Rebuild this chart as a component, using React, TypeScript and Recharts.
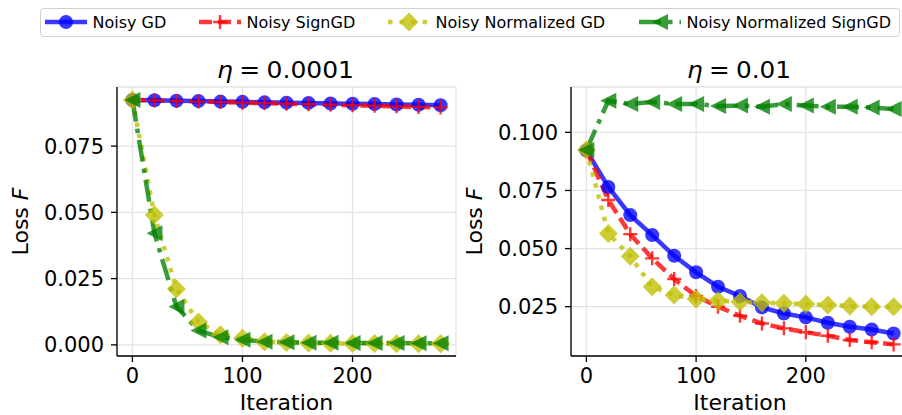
import React from 'react';
import { LineChart, Line, XAxis, YAxis, CartesianGrid, Label } from 'recharts';

// iteration index shared by every run
const iterations = [0, 20, 40, 60, 80, 100, 120, 140, 160, 180, 200, 220, 240, 260, 280];

// eta = 0.0001
const gdSmall = [0.0924, 0.0923, 0.0921, 0.092, 0.0918, 0.0917, 0.0915, 0.0914, 0.0913, 0.0911, 0.091, 0.0909, 0.0907, 0.0906, 0.0904];
const signSmall = [0.0924, 0.0922, 0.092, 0.0918, 0.0916, 0.0914, 0.0912, 0.091, 0.0908, 0.0906, 0.0904, 0.0902, 0.09, 0.0898, 0.0896];
const normSmall = [0.0924, 0.049, 0.0211, 0.0086, 0.0038, 0.0025, 0.0012, 0.0009, 0.0007, 0.0006, 0.0005, 0.0005, 0.0004, 0.0004, 0.0004];
const normSignSmall = [0.0924, 0.0421, 0.0144, 0.0054, 0.0029, 0.0019, 0.0012, 0.001, 0.0008, 0.0008, 0.0007, 0.0007, 0.0007, 0.0006, 0.0006];

// eta = 0.01
const gdLarge = [0.0922, 0.0765, 0.0644, 0.0558, 0.0469, 0.0398, 0.0336, 0.0296, 0.0247, 0.0221, 0.0204, 0.0181, 0.0164, 0.0152, 0.0135];
const signLarge = [0.0924, 0.0709, 0.0562, 0.0458, 0.0369, 0.0296, 0.025, 0.0211, 0.0178, 0.0157, 0.014, 0.0125, 0.0107, 0.0097, 0.0088];
const normLarge = [0.0924, 0.0565, 0.0467, 0.0336, 0.03, 0.0283, 0.0276, 0.0271, 0.0267, 0.0265, 0.0262, 0.0257, 0.0253, 0.025, 0.025];
const normSignLarge = [0.0924, 0.1136, 0.1122, 0.113, 0.1122, 0.1122, 0.1113, 0.1115, 0.111, 0.1122, 0.1115, 0.111, 0.111, 0.1107, 0.11];

const xTicks = [0, 100, 200];
const yTicksSmall = [0, 0.025, 0.05, 0.075];
const yTicksLarge = [0.025, 0.05, 0.075, 0.1];

const seriesNames = ['Noisy GD', 'Noisy SignGD', 'Noisy Normalized GD', 'Noisy Normalized SignGD'];

const FONT = 'DejaVu Sans';
const ALPHA = 0.78;

const seriesStyle = [
  { key: 'gd', color: '#0000ff', dash: undefined as string | undefined, marker: 'circle' },
  { key: 'sign', color: '#ff0000', dash: '13 6', marker: 'plus' },
  { key: 'norm', color: '#bfbf00', dash: '4.5 7', marker: 'diamond' },
  { key: 'normSign', color: '#008000', dash: '22 7 4.5 7', marker: 'triangle' },
];

const buildRows = (gd: number[], sign: number[], norm: number[], normSign: number[]) =>
  iterations.map((it, i) => ({ it, gd: gd[i], sign: sign[i], norm: norm[i], normSign: normSign[i] }));

const smallRows = buildRows(gdSmall, signSmall, normSmall, normSignSmall);
const largeRows = buildRows(gdLarge, signLarge, normLarge, normSignLarge);

const MarkerShape = ({ type, cx, cy, color }: { type: string; cx: number; cy: number; color: string }) => {
  if (cx == null || cy == null) return null;
  if (type === 'circle') return <circle cx={cx} cy={cy} r={7} fill={color} opacity={ALPHA} />;
  if (type === 'plus')
    return (
      <path
        d={`M${cx - 7},${cy}H${cx + 7}M${cx},${cy - 7}V${cy + 7}`}
        stroke={color}
        strokeWidth={2.4}
        fill="none"
        opacity={ALPHA}
      />
    );
  if (type === 'diamond')
    return (
      <polygon
        points={`${cx},${cy - 9.5} ${cx + 9.5},${cy} ${cx},${cy + 9.5} ${cx - 9.5},${cy}`}
        fill={color}
        opacity={ALPHA}
      />
    );
  return (
    <polygon points={`${cx - 8},${cy} ${cx + 8},${cy - 8} ${cx + 8},${cy + 8}`} fill={color} opacity={ALPHA} />
  );
};

interface PanelProps {
  rows: any[];
  eta: string;
  titleLength: number;
  yDomain: [number, number];
  yTicks: number[];
  left: number;
  width: number;
  yAxisWidth: number;
  marginRight: number;
  yLabelX: number;
}

const PLOT_TOP = 87;
const PLOT_BOTTOM = 356;
const HEIGHT = 415;

const Panel = ({ rows, eta, titleLength, yDomain, yTicks, left, width, yAxisWidth, marginRight, yLabelX }: PanelProps) => {
  const plotWidth = width - yAxisWidth - marginRight;
  const centerX = yAxisWidth + plotWidth / 2;
  const centerY = (PLOT_TOP + PLOT_BOTTOM) / 2;
  const tickStyle = { fill: '#000', fontSize: 21, fontFamily: FONT };
  const axisStroke = { stroke: '#000', strokeWidth: 1.3 };

  return (
    <div style={{ position: 'absolute', left, top: 0 }}>
      <LineChart
        width={width}
        height={HEIGHT}
        data={rows}
        margin={{ top: PLOT_TOP, right: marginRight, bottom: 0, left: 0 }}
      >
        <CartesianGrid stroke="#e3e3e3" strokeWidth={1.3} />
        <XAxis
          dataKey="it"
          type="number"
          domain={[-14, 294]}
          ticks={xTicks}
          allowDataOverflow
          height={HEIGHT - PLOT_BOTTOM}
          tick={tickStyle}
          tickSize={6}
          tickMargin={6}
          tickLine={axisStroke}
          axisLine={axisStroke}
        >
          <Label
            content={() => (
              <g>
                <text x={centerX} y={410} textAnchor="middle" fontFamily={FONT} fontSize={22} fill="#000">
                  Iteration
                </text>
                <text
                  x={centerX - 1}
                  y={77.5}
                  textAnchor="middle"
                  fontFamily={FONT}
                  fontSize={23.5}
                  fill="#000"
                  textLength={titleLength}
                  lengthAdjust="spacingAndGlyphs"
                >
                  <tspan fontStyle="italic">η</tspan>
                  <tspan dx={6}>=</tspan>
                  <tspan dx={6}>{eta}</tspan>
                </text>
              </g>
            )}
          />
        </XAxis>
        <XAxis
          xAxisId="top"
          orientation="top"
          type="number"
          domain={[0, 1]}
          height={0}
          tick={false}
          tickLine={false}
          axisLine={axisStroke}
        />
        <YAxis
          type="number"
          domain={yDomain}
          ticks={yTicks}
          allowDataOverflow
          width={yAxisWidth}
          tick={tickStyle}
          tickSize={6}
          tickMargin={7}
          tickLine={axisStroke}
          axisLine={axisStroke}
          tickFormatter={(v: number) => v.toFixed(3)}
        >
          <Label
            content={() => (
              <text
                x={yLabelX}
                y={centerY}
                transform={`rotate(-90 ${yLabelX} ${centerY})`}
                textAnchor="middle"
                dominantBaseline="central"
                fontFamily={FONT}
                fontSize={22}
                fill="#000"
              >
                Loss <tspan fontStyle="italic">F</tspan>
              </text>
            )}
          />
        </YAxis>
        <YAxis
          yAxisId="right"
          orientation="right"
          type="number"
          domain={[0, 1]}
          width={0}
          tick={false}
          tickLine={false}
          axisLine={axisStroke}
        />
        {seriesStyle.map((s, i) => (
          <Line
            key={s.key}
            name={seriesNames[i]}
            dataKey={s.key}
            stroke={s.color}
            strokeOpacity={ALPHA}
            strokeWidth={4.5}
            strokeDasharray={s.dash}
            strokeLinecap="butt"
            dot={(p: any) => <MarkerShape key={`${s.key}-${p.index}`} type={s.marker} cx={p.cx} cy={p.cy} color={s.color} />}
            activeDot={false}
            isAnimationActive={false}
          />
        ))}
      </LineChart>
    </div>
  );
};

const legendX = [45, 199, 388, 639];

const LegendBox = () => (
  <svg width={902} height={44} style={{ position: 'absolute', left: 0, top: 0 }}>
    <rect x={40.5} y={8.5} width={859} height={28} rx={3} fill="#fff" stroke="#d0d0d0" strokeWidth={1} />
    {seriesStyle.map((s, i) => {
      const x0 = legendX[i];
      return (
        <g key={s.key}>
          <line
            x1={x0}
            x2={x0 + 42}
            y1={22}
            y2={22}
            stroke={s.color}
            strokeOpacity={ALPHA}
            strokeWidth={4.5}
            strokeDasharray={s.dash}
          />
          <MarkerShape type={s.marker} cx={x0 + 21} cy={22} color={s.color} />
          <text x={x0 + 47.5} y={27.5} fontFamily={FONT} fontSize={16} fill="#000">
            {seriesNames[i]}
          </text>
        </g>
      );
    })}
  </svg>
);

export default function App() {
  return (
    <div
      style={{
        position: 'absolute',
        left: 0,
        top: 0,
        width: 902,
        height: 415,
        overflow: 'hidden',
        background: '#fff',
      }}
    >
      <Panel
        rows={smallRows}
        eta="0.0001"
        titleLength={137}
        yDomain={[-0.0042, 0.0973]}
        yTicks={yTicksSmall}
        left={0}
        width={470}
        yAxisWidth={117}
        marginRight={14}
        yLabelX={20}
      />
      <Panel
        rows={largeRows}
        eta="0.01"
        titleLength={104}
        yDomain={[0.0038, 0.1195]}
        yTicks={yTicksLarge}
        left={460}
        width={460}
        yAxisWidth={111}
        marginRight={11}
        yLabelX={14}
      />
      <LegendBox />
    </div>
  );
}
